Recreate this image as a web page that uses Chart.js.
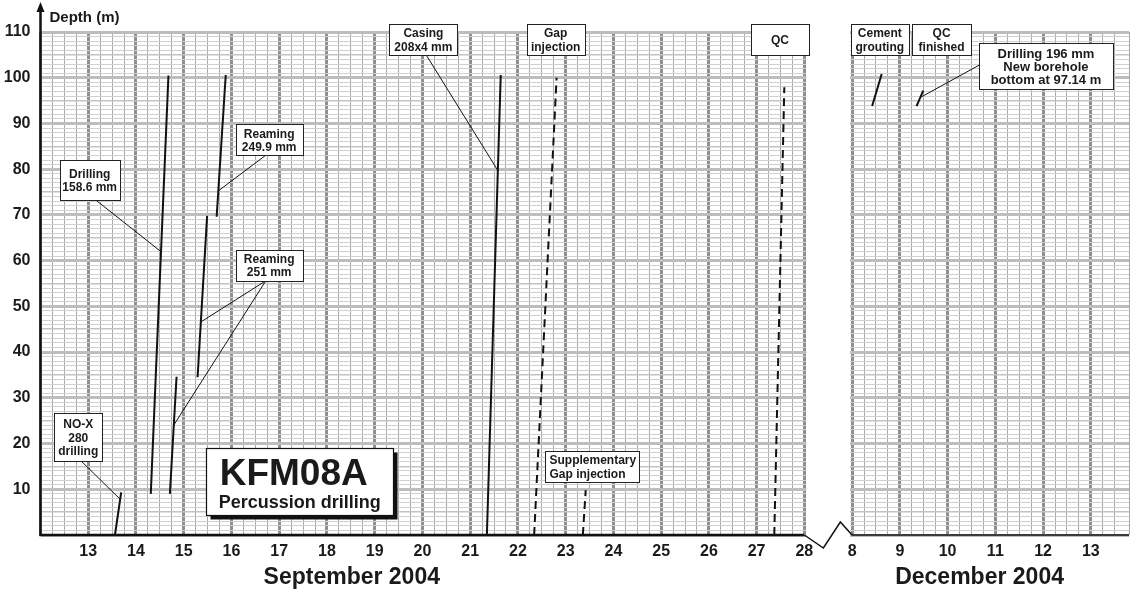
<!DOCTYPE html>
<html><head><meta charset="utf-8">
<script src="https://cdn.jsdelivr.net/npm/chart.js@4.4.1/dist/chart.umd.min.js"></script>
<style>html,body{margin:0;padding:0;background:#fff}#wrap{width:1136px;height:592px}</style>
</head><body><div id="wrap"><canvas id="c" width="1136" height="592"></canvas></div>
<script>
const FONT = '"Liberation Sans", Arial, Helvetica, sans-serif';

// ---- axis labels ----
const sepDays = [13,14,15,16,17,18,19,20,21,22,23,24,25,26,27,28];   // September 2004
const decDays = [8,9,10,11,12,13];                                    // December 2004
const depthLabels = [10,20,30,40,50,60,70,80,90,100,110];
const SEP_START = 12, DEC_START = 8, DEC_OFFSET = 17;

// ---- series: [day of month, depth (m)] ----
const noxDrilling   = [[13.56,0],[13.69,9.3]];          // Sep
const drilling1586  = [[14.31,9.0],[14.68,100.5]];      // Sep
const reaming251a   = [[14.71,9.0],[14.85,34.6]];       // Sep
const reaming251b   = [[15.29,34.5],[15.49,69.8]];      // Sep
const reaming2499   = [[15.69,69.6],[15.88,100.6]];     // Sep
const casing208     = [[21.35,0],[21.64,100.6]];        // Sep
const gapInjection  = [[22.34,0],[22.81,100.0]];        // Sep
const suppGapInj    = [[23.36,0],[23.42,9.8]];          // Sep
const qcSep         = [[27.37,0],[27.58,97.9]];         // Sep
const cementGrout   = [[8.42,93.8],[8.62,100.8]];       // Dec
const drilling196   = [[9.35,93.8],[9.49,97.2]];        // Dec

function sepX(d){return d-SEP_START;}
function decX(d){return d-DEC_START+DEC_OFFSET;}
function sep(arr){return arr.map(p=>({x:sepX(p[0]),y:p[1]}));}
function dec(arr){return arr.map(p=>({x:decX(p[0]),y:p[1]}));}

function ds(data,dashed){
  return {data, showLine:true, pointRadius:0, borderColor:'#111', borderWidth:2,
          borderDash: dashed?[8,5]:[], fill:false, tension:0};
}

// ---- annotations (month, day, depth for box centre; box size in px) ----
const notes = [
  {lines:['Drilling','158.6 mm'], m:'S', d:13.03, y:77.6, w:60, h:40,
   leaders:[[['S',13.14,73.4],['S',14.52,62.0]]]},
  {lines:['Reaming','249.9 mm'], m:'S', d:16.79, y:86.4, w:67, h:31,
   leaders:[[['S',16.70,82.9],['S',15.73,75.3]]]},
  {lines:['Reaming','251 mm'], m:'S', d:16.79, y:59.0, w:67, h:31,
   leaders:[[['S',16.72,55.6],['S',15.36,46.6]],[['S',16.72,55.6],['S',14.79,24.0]]]},
  {lines:['NO-X','280','drilling'], m:'S', d:12.79, y:21.4, w:48, h:48,
   leaders:[[['S',12.85,16.2],['S',13.67,7.8]]]},
  {lines:['Casing','208x4 mm'], m:'S', d:20.02, y:108.3, w:68, h:31,
   leaders:[[['S',20.06,105.3],['S',21.58,79.7]]]},
  {lines:['Gap','injection'], m:'S', d:22.79, y:108.3, w:58, h:31, leaders:[]},
  {lines:['QC'], m:'S', d:27.49, y:108.3, w:58, h:31, leaders:[]},
  {lines:['Cement','grouting'], m:'D', d:8.58, y:108.3, w:58, h:31, leaders:[]},
  {lines:['QC','finished'], m:'D', d:9.875, y:108.3, w:59, h:31, leaders:[]},
  {lines:['Drilling 196 mm','New borehole','bottom at 97.14 m'], m:'D', d:12.06, y:102.5, w:134, h:46,
   size:13, lh:13, leaders:[[['D',10.67,102.8],['D',9.45,95.8]]]},
  {lines:['Supplementary','Gap injection'], m:'S', d:23.56, y:15.0, w:94, h:31, align:'left', leaders:[]}
];
const titleBox = {title:'KFM08A', sub:'Percussion drilling', m:'S', d:17.43, y:11.8, w:187, h:67};
const monthTitles = [{text:'September 2004', m:'S', d:18.52},{text:'December 2004', m:'D', d:10.67}];

function toX(m,d){return m==='S'?sepX(d):decX(d);}

const decor = {
  id:'decor',
  beforeDatasetsDraw(chart){
    const {ctx, chartArea:a, scales:{x}} = chart;
    const x0 = x.getPixelForValue(16)+2, x1 = x.getPixelForValue(17)-2;
    ctx.save(); ctx.fillStyle='#fff';
    ctx.fillRect(x0, a.top-4, x1-x0, a.bottom-a.top+8);
    ctx.restore();
  },
  afterDraw(chart){
    const {ctx, chartArea:a, scales:{x,y}} = chart;
    ctx.save();
    // y axis with arrow
    ctx.strokeStyle='#111'; ctx.fillStyle='#111';
    ctx.lineWidth=2.5;
    ctx.beginPath(); ctx.moveTo(a.left, a.bottom+1); ctx.lineTo(a.left, 9); ctx.stroke();
    ctx.beginPath(); ctx.moveTo(a.left-4,12); ctx.lineTo(a.left,2); ctx.lineTo(a.left+4,12); ctx.closePath(); ctx.fill();
    // x axis with break
    const xs = x.getPixelForValue(16), xd = x.getPixelForValue(17), b = a.bottom;
    ctx.lineWidth=2.5;
    ctx.beginPath(); ctx.moveTo(a.left-1,b); ctx.lineTo(xs,b); ctx.stroke();
    ctx.lineWidth=1.5;
    ctx.beginPath(); ctx.moveTo(xs,b); ctx.lineTo(xs+19,b+13); ctx.lineTo(xs+36,b-13); ctx.lineTo(xd,b); ctx.lineTo(a.right,b); ctx.stroke();
    // titles
    ctx.fillStyle='#1a1a1a';
    ctx.font='bold 15px '+FONT; ctx.textAlign='left'; ctx.textBaseline='alphabetic';
    ctx.fillText('Depth (m)', a.left+9, 22);
    ctx.font='bold 23px '+FONT; ctx.textAlign='center';
    monthTitles.forEach(t=>ctx.fillText(t.text, x.getPixelForValue(toX(t.m,t.d)), 584));
    // leaders
    ctx.strokeStyle='#111'; ctx.lineWidth=1;
    notes.forEach(n=>n.leaders.forEach(l=>{
      ctx.beginPath();
      ctx.moveTo(x.getPixelForValue(toX(l[0][0],l[0][1])), y.getPixelForValue(l[0][2]));
      ctx.lineTo(x.getPixelForValue(toX(l[1][0],l[1][1])), y.getPixelForValue(l[1][2]));
      ctx.stroke();
    }));
    // boxes
    notes.forEach(n=>{
      const cx = x.getPixelForValue(toX(n.m,n.d)), cy = y.getPixelForValue(n.y);
      const L = Math.round(cx-n.w/2)+0.5, T = Math.round(cy-n.h/2)+0.5;
      ctx.fillStyle='#fff'; ctx.fillRect(L,T,n.w,n.h);
      ctx.strokeStyle='#222'; ctx.lineWidth=1; ctx.strokeRect(L,T,n.w,n.h);
      const size = n.size||12, lh = n.lh||13.5;
      ctx.font='bold '+size+'px '+FONT; ctx.fillStyle='#1a1a1a';
      const first = cy - (n.lines.length-1)*lh/2 + size*0.37;
      n.lines.forEach((s,i)=>{
        if(n.align==='left'){ctx.textAlign='left'; ctx.fillText(s, L+4, first+i*lh);}
        else {ctx.textAlign='center'; ctx.fillText(s, cx, first+i*lh);}
      });
    });
    // title box with shadow
    const tb = titleBox;
    const tcx = x.getPixelForValue(toX(tb.m,tb.d)), tcy = y.getPixelForValue(tb.y);
    const TL = Math.round(tcx-tb.w/2)+0.5, TT = Math.round(tcy-tb.h/2)+0.5;
    ctx.fillStyle='#111'; ctx.fillRect(TL+4,TT+4,tb.w,tb.h);
    ctx.fillStyle='#fff'; ctx.fillRect(TL,TT,tb.w,tb.h);
    ctx.strokeStyle='#111'; ctx.lineWidth=1.2; ctx.strokeRect(TL,TT,tb.w,tb.h);
    ctx.fillStyle='#1a1a1a'; ctx.textAlign='center';
    ctx.font='bold 37px '+FONT; ctx.fillText(tb.title, tcx-6, TT+36);
    ctx.font='bold 18px '+FONT; ctx.fillText(tb.sub, tcx, TT+59);
    ctx.restore();
  }
};

const q = v => Math.round(v*4)/4;
new Chart(document.getElementById('c'), {
  type:'scatter',
  data:{datasets:[
    ds(sep(noxDrilling)), ds(sep(drilling1586)), ds(sep(reaming251a)), ds(sep(reaming251b)),
    ds(sep(reaming2499)), ds(sep(casing208)), ds(sep(gapInjection),true), ds(sep(suppGapInj),true),
    ds(sep(qcSep),true), ds(dec(cementGrout)), ds(dec(drilling196))
  ]},
  options:{
    responsive:false, animation:false, devicePixelRatio:1,
    layout:{padding:{top:32,right:2,left:0,bottom:0}},
    plugins:{legend:{display:false}, tooltip:{enabled:false}},
    scales:{
      x:{type:'linear', min:0, max:22.8,
        afterFit(s){s.height=57;},
        border:{display:false},
        grid:{drawTicks:false,
          color:c=>{const v=q(c.tick.value); if(v>16&&v<17) return 'rgba(0,0,0,0)'; return Number.isInteger(v)?'#8f8f8f':'#a9a9a9';},
          lineWidth:c=>{const v=q(c.tick.value); return Number.isInteger(v)?3:1;}},
        ticks:{stepSize:0.25, autoSkip:false, maxRotation:0, padding:7, color:'#1a1a1a',
          font:{family:FONT,size:16,weight:'bold'},
          callback:v=>{const r=q(v); if(!Number.isInteger(r)) return '';
            if(r>=1&&r<=16) return String(sepDays[r-1]);
            if(r>=DEC_OFFSET && r-DEC_OFFSET<decDays.length) return String(decDays[r-DEC_OFFSET]);
            return '';}}
      },
      y:{min:0, max:110,
        afterFit(s){s.width=40.5;},
        border:{display:false},
        grid:{drawTicks:false,
          color:c=>{const v=Math.round(c.tick.value); return v%10===0?'#bdbdbd':(v%5===0?'#c4c4c4':'#d0d0d0');},
          lineWidth:c=>{const v=Math.round(c.tick.value); return v%10===0?3:(v%5===0?1.5:1);}},
        ticks:{stepSize:1, autoSkip:false, padding:10, color:'#1a1a1a',
          font:{family:FONT,size:16,weight:'bold'},
          callback:v=>depthLabels.includes(Math.round(v))&&Math.abs(v-Math.round(v))<1e-6?String(Math.round(v)):''}
      }
    }
  },
  plugins:[decor]
});
</script>
</body></html>
